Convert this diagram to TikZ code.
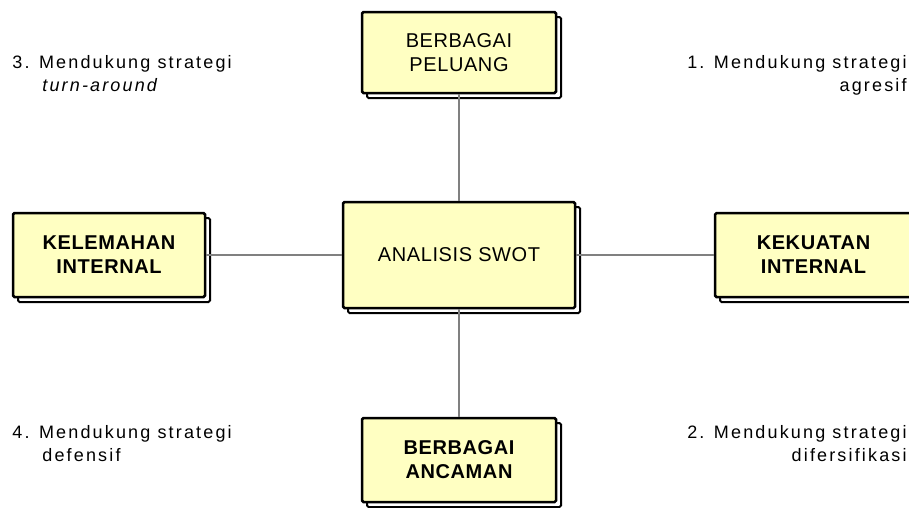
\documentclass[tikz,border=0pt]{standalone}
\usepackage{fontspec}
\setmainfont{Liberation Sans}
\newfontfamily\notefont[LetterSpace=12]{Liberation Sans}
\newfontfamily\boxfont[LetterSpace=3]{Liberation Sans}
\usetikzlibrary{shadows}

\definecolor{boxfill}{RGB}{255,255,194}
\definecolor{linkgray}{RGB}{128,128,128}

\tikzset{every picture/.style={line width=0.75pt}}
\tikzset{
  swotbox/.style={draw=black, line width=2.5pt, fill=boxfill, rounded corners=1.5pt,
    align=center, inner sep=0pt, font=\boxfont\fontsize{20}{24}\selectfont,
    copy shadow={shadow xshift=5pt, shadow yshift=-5pt, fill=white, draw=black, line width=2pt}},
  link/.style={draw=linkgray, line width=2pt},
  note/.style={inner sep=0pt, font=\notefont\fontsize{18}{21}\selectfont}
}

\begin{document}
\begin{tikzpicture}[x=1pt,y=1pt,yscale=-1,xscale=1]
\useasboundingbox (0,0) rectangle (909,507);

%Boxes
\node (peluang) at (459,52.5) [swotbox, minimum width=194pt, minimum height=81pt] {BERBAGAI\\PELUANG};
\node (swot) at (459,255) [swotbox, minimum width=232pt, minimum height=106pt] {ANALISIS SWOT};
\node (kelemahan) at (109,255) [swotbox, minimum width=192pt, minimum height=84pt] {\bfseries KELEMAHAN\\\bfseries INTERNAL};
\node (kekuatan) at (813.5,255) [swotbox, minimum width=197pt, minimum height=84pt] {\bfseries KEKUATAN\\\bfseries INTERNAL};
\node (ancaman) at (459,460) [swotbox, minimum width=194pt, minimum height=84pt] {\bfseries BERBAGAI\\\bfseries ANCAMAN};

%Links
\draw [link] (peluang) -- (swot);
\draw [link] (swot) -- (ancaman);
\draw [link] (kelemahan) -- (swot);
\draw [link] (swot) -- (kekuatan);

% Text Node
\node (s3a) at (12,68) [note, anchor=base west] {3. Mendukung strategi};
\node (s3b) at (42,91) [note, anchor=base west] {\itshape turn-around};
% Text Node
\node (s1a) at (907,68) [note, anchor=base east] {1. Mendukung strategi};
\node (s1b) at (907,91) [note, anchor=base east] {agresif};
% Text Node
\node (s4a) at (12,438) [note, anchor=base west] {4. Mendukung strategi};
\node (s4b) at (42,461) [note, anchor=base west] {defensif};
% Text Node
\node (s2a) at (907,438) [note, anchor=base east] {2. Mendukung strategi};
\node (s2b) at (907,461) [note, anchor=base east] {difersifikasi};

\end{tikzpicture}
\end{document}
